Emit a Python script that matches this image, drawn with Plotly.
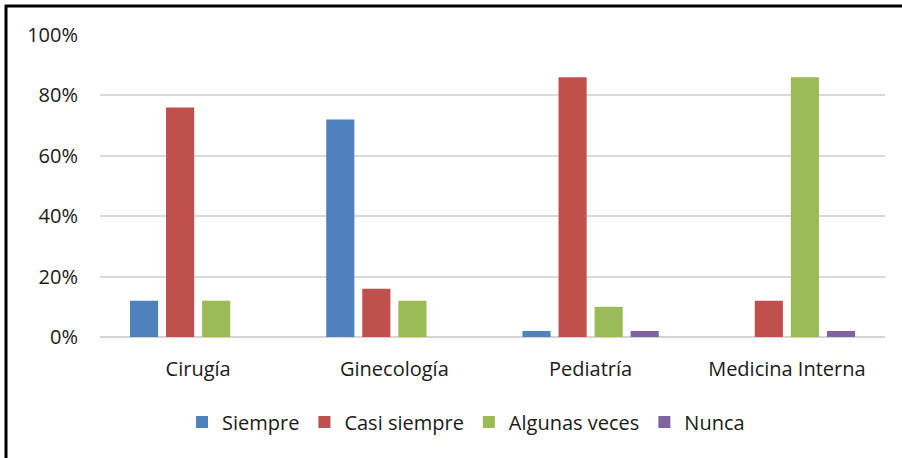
import plotly.graph_objects as go

categories = ["Cirugía", "Ginecología", "Pediatría", "Medicina Interna"]
series_names = ["Siempre", "Casi siempre", "Algunas veces", "Nunca"]
siempre = [12, 72, 2, 0]
casi_siempre = [76, 16, 86, 12]
algunas_veces = [12, 12, 10, 86]
nunca = [0, 0, 2, 2]
y_ticks = [0, 20, 40, 60, 80, 100]
y_tick_labels = ["0%", "20%", "40%", "60%", "80%", "100%"]

colors = ["#4F81BD", "#C0504D", "#9BBB59", "#8064A2"]
values = [siempre, casi_siempre, algunas_veces, nunca]

fig = go.Figure()
for name, vals, col in zip(series_names, values, colors):
    fig.add_trace(go.Bar(x=categories, y=vals, name=name, marker_color=col,
                         marker_line_width=0))

W, H = 902, 458
L, R, T, B = 100, 17, 35, 121
pw, ph = W - L - R, H - T - B

def px_x(px):
    return (px - L) / pw

def px_y(py):
    return (H - B - py) / ph

font = dict(family="Open Sans, Noto Sans, sans-serif", size=20, color="#1a1a1a")

fig.update_layout(
    width=W, height=H,
    margin=dict(l=L, r=R, t=T, b=B, autoexpand=False),
    paper_bgcolor="white", plot_bgcolor="white",
    barmode="group", bargap=0.265, bargroupgap=0.22,
    font=font,
    showlegend=True,
    legend=dict(orientation="h", x=px_x(466), xanchor="center",
                y=px_y(422), yanchor="middle", font=font,
                itemwidth=30, traceorder="normal", itemclick=False),
    xaxis=dict(showgrid=False, showline=False, ticks="", tickfont=font,
               ticklabelstandoff=18),
    yaxis=dict(range=[0, 100], tickvals=y_ticks, ticktext=y_tick_labels,
               showgrid=True, gridcolor="#d9d9d9", gridwidth=1.5,
               zeroline=True, zerolinecolor="#d4d4d4", zerolinewidth=2,
               showline=False, ticks="", tickfont=font, ticklabelstandoff=21),
    shapes=[
        dict(type="line", xref="paper", yref="paper",
             x0=px_x(6), x1=px_x(6), y0=px_y(5), y1=px_y(H + 5),
             line=dict(color="black", width=3)),
        dict(type="line", xref="paper", yref="paper",
             x0=px_x(5), x1=px_x(W + 5), y0=px_y(6), y1=px_y(6),
             line=dict(color="black", width=3)),
    ],
)

fig.write_html("out.html", config={"displayModeBar": False},
               post_script="document.body.style.margin='0';")
